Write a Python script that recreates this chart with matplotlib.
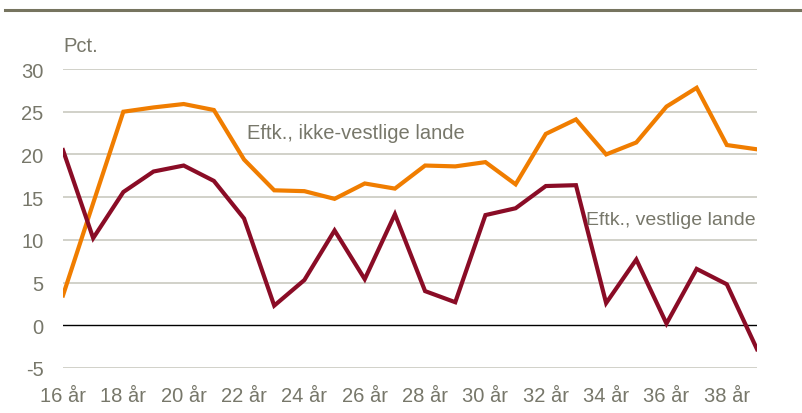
import matplotlib
matplotlib.use("Agg")
import matplotlib.pyplot as plt
from matplotlib import font_manager as fm

ages = list(range(16, 40))
ikke_vestlige = [3.5, 14.3, 25.0, 25.5, 25.9, 25.2, 19.4, 15.8, 15.7, 14.8, 16.6, 16.0,
                 18.7, 18.6, 19.1, 16.5, 22.4, 24.1, 20.0, 21.4, 25.6, 27.8, 21.1, 20.6]
vestlige = [20.5, 10.2, 15.6, 18.0, 18.7, 16.9, 12.5, 2.3, 5.3, 11.1, 5.4, 13.0,
            4.0, 2.7, 12.9, 13.7, 16.3, 16.4, 2.6, 7.7, 0.2, 6.6, 4.8, -2.8]
xtick_vals = list(range(16, 40, 2))
xtick_labels = [f"{a} år" for a in xtick_vals]
ytick_vals = [-5, 0, 5, 10, 15, 20, 25, 30]

names = {f.name for f in fm.fontManager.ttflist}
fam = ["Liberation Sans Narrow"] if "Liberation Sans Narrow" in names else ["Liberation Sans"]
plt.rcParams["font.family"] = fam + ["DejaVu Sans"]

txt = "#77776a"
orange = "#F07D00"
red = "#8A0C26"

fig = plt.figure(figsize=(8.03, 4.14), dpi=100)
ax = fig.add_axes([63/803, 1 - 369/414, (757-63)/803, (369-70)/414])

for y in ytick_vals:
    if y == 0:
        ax.axhline(0, color="black", lw=1.0, zorder=1)
    else:
        ax.axhline(y, color="#c9c9c0", lw=1.2, zorder=1)

ax.plot(ages, ikke_vestlige, color=orange, lw=3.0, zorder=3, solid_joinstyle="miter")
ax.plot(ages, vestlige, color=red, lw=3.0, zorder=3, solid_joinstyle="miter")

ax.set_xlim(16, 39)
ax.set_ylim(-5, 30)
ax.set_yticks(ytick_vals)
ax.set_yticklabels([str(v) for v in ytick_vals])
ax.set_xticks(xtick_vals)
ax.set_xticklabels(xtick_labels)
ax.tick_params(axis="both", length=0, labelsize=14.5, labelcolor=txt)
ax.tick_params(axis="y", pad=14)
ax.tick_params(axis="x", pad=13)
for s in ax.spines.values():
    s.set_visible(False)
ax.set_facecolor("none")

ax.text(22.1, 22.6, "Eftk., ikke-vestlige lande", color=txt, fontsize=14.5, va="center", ha="left")
ax.text(38.95, 12.4, "Eftk., vestlige lande", color=txt, fontsize=14, va="center", ha="right")
fig.text(63/803, 1 - 47/414, "Pct.", color=txt, fontsize=14.5, va="center", ha="left")

fig.add_artist(plt.Line2D([5/803, 800/803], [1 - 11/414, 1 - 11/414], color="#76745f", lw=2.2))

fig.savefig("out.png", dpi=100)
